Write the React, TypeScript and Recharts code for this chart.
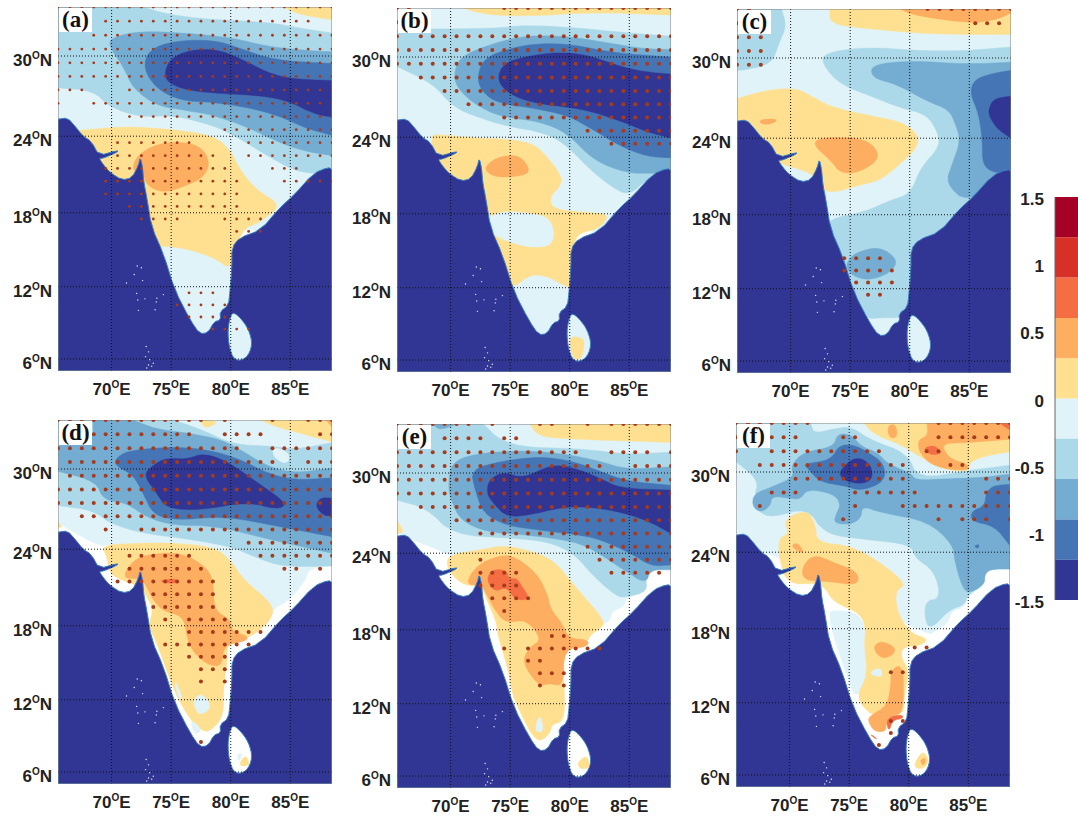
import React from 'react';
import { ScatterChart, Scatter, XAxis, YAxis, BarChart, Bar } from 'recharts';

type Pt = number[];
const COLORS = ['#313695', '#4575b4', '#74add1', '#abd9e9', '#e0f3f8', '#fee090', '#fdae61', '#f46d43', '#d73027', '#a50026', '#ffffff'];
const LON_TICKS = [70, 75, 80, 85];
const LAT_TICKS = [6, 12, 18, 24, 30];
const LON_DOMAIN = [65.5, 88.5];
const LAT_DOMAIN = [5, 33.5];

const fullFrame: Pt[] = [[65.5, 33.5], [88.5, 33.5], [88.5, 5], [65.5, 5]];
const coastOcean: Pt[] = [[65.5, 25.3], [66.3, 25.4], [66.9, 24.8], [67.6, 24], [68.3, 23.6], [68.95, 22.5], [70.5, 22.9], [70.5, 22.78], [69.3, 22.3], [68.95, 22.3], [69.3, 21.8], [69.85, 21.2], [70.85, 20.6], [71.7, 20.76], [72.25, 21.73], [72.4, 22.4], [72.6, 21.6], [72.7, 20.42], [72.95, 19.25], [73.35, 16.87], [74.35, 14.7], [75.3, 11.72], [76.6, 9.25], [77.4, 8.1], [78.1, 8.2], [78.6, 9.1], [79.15, 9.25], [79.1, 9.95], [79.8, 10.45], [79.95, 11.7], [80.1, 13.6], [80.1, 15.2], [80.75, 16], [82.5, 16.6], [84.15, 18.43], [85.3, 19.4], [86.95, 21.13], [88.2, 21.6], [88.5, 21.4], [88.5, 5], [65.5, 5]];
const sriLanka: Pt[] = [[80.2, 9.9], [80.8, 9.45], [81.5, 8.5], [81.85, 7.18], [81.3, 6], [80.3, 5.85], [79.85, 7.05], [79.75, 8.42], [79.95, 9.5]];
const islandLons = [72.15, 72.5, 71.9, 72.6, 71.25, 72.1, 72.2, 72.8, 73.8, 74.35, 73.75, 72.25, 73.65, 72.9, 73.1, 72.85, 73.2, 73.5, 73.1, 72.95, 73.37];
const islandLats = [13.7, 13.55, 13, 12.5, 12.3, 11.45, 10.9, 11, 11.05, 11.35, 10.75, 10.05, 10.1, 7.05, 6.6, 6.2, 5.95, 5.65, 5.5, 5.25, 5.4];

// Panel (a)
const aBand3: Pt[] = [[65.5, 33.5], [72.66, 33.5], [74.63, 33], [78, 32.63], [83.06, 32.44], [85.87, 32], [88.5, 31.66], [88.5, 21.08], [87, 21.08], [85.3, 21.34], [83.06, 22.5], [80.25, 24.08], [78.56, 24.8], [75.2, 25.6], [72.4, 25.45], [69.85, 26.2], [68.45, 27.45], [65.5, 27.65]];
const aBand2: Pt[] = [[69.7, 30.8], [70.1, 31.37], [72.4, 31.8], [76.3, 31.66], [80.25, 31.3], [83.05, 30.7], [85.87, 30.44], [88.5, 30.3], [88.5, 22.5], [85.87, 22.9], [83.6, 23.7], [81.37, 24.7], [78.56, 25.6], [76.3, 25.95], [73.8, 26.3], [71.8, 27.6], [71, 29.2]];
const aBand1: Pt[] = [[72.66, 29.07], [73.1, 30.44], [75.2, 31.1], [78.56, 31.17], [80.8, 30.56], [83.6, 29.7], [88.5, 29.45], [88.5, 24.07], [86.4, 24.57], [84, 25.57], [81.37, 26.2], [78.56, 26.57], [75.75, 26.7], [73.8, 27.57]];
const aBand0: Pt[] = [[74.35, 28.5], [74.9, 29.83], [76.6, 30.44], [78.8, 30.5], [80.8, 29.83], [83.05, 28.8], [85, 28.32], [88.5, 28.2], [88.5, 25.45], [87, 25.7], [84.75, 26.7], [82.5, 27.07], [79.7, 27.2], [76.9, 27.4], [75.2, 27.8]];
const aYellow: Pt[] = [[67.47, 24.45], [71, 24.75], [74.6, 24.57], [78.56, 24.07], [80, 22.9], [80.8, 21.33], [82.2, 19.77], [84.3, 18.6], [82.5, 17.27], [80.8, 16.6], [80.1, 13.3], [78.56, 14.4], [76.3, 15.1], [74.07, 15.35], [72, 15.35], [68, 20], [67, 24.45]];
const aOrange: Pt[] = [[71.7, 21.34], [72.1, 22.5], [73.8, 23.43], [76.3, 23.56], [77.7, 23.03], [78.26, 21.86], [77.7, 20.8], [76.3, 20.16], [74.35, 19.56], [72.95, 20.16], [72.66, 21.1]];
const aTopYellow: Pt[] = [[84.46, 33.5], [85.6, 33], [88.5, 32.6], [88.5, 33.5]];
const andhraGap: Pt[] = [[80.3, 15.9], [80.5, 16.6], [82.2, 16.65], [81.3, 16.1], [80.8, 15.9]];

// Panel (b)
const bBand3: Pt[] = [[65.5, 32], [73.6, 32.05], [76.4, 32.3], [80.6, 32.1], [84.8, 31.75], [88.5, 31.5], [88.5, 21.2], [86.8, 21], [84.97, 19.4], [83.4, 20.2], [81.7, 21.5], [79.8, 23.3], [78.1, 24.3], [74.4, 24.9], [72.2, 25.55], [70.2, 26.3], [68.5, 28.05], [65.5, 29.3]];
const bBand2: Pt[] = [[70.27, 28.8], [70.8, 30.05], [73.6, 31], [76.4, 31.56], [79.8, 31.5], [83.4, 31], [86.2, 30.6], [88.5, 30.55], [88.5, 21.2], [87.07, 21.2], [84.8, 21.2], [82, 22.2], [79.8, 24.3], [77.5, 25.2], [74.15, 25.55], [71.9, 26.55], [70.5, 27.8]];
const bBand1: Pt[] = [[72.2, 28.4], [72.75, 29.9], [75, 30.65], [77.5, 31], [80.3, 30.9], [83.7, 30.3], [88.5, 30], [88.5, 22.4], [86.5, 22.5], [84.26, 23.3], [82, 24.55], [79.8, 25.67], [77, 26.2], [74.15, 26.55], [72.75, 27.3]];
const bBand0: Pt[] = [[73.87, 28.3], [74.43, 29.55], [76.4, 30.05], [78.93, 30.35], [81.45, 30.17], [84.26, 29.3], [86.2, 28.92], [88.5, 28.75], [88.5, 23.93], [86.5, 24.4], [84.8, 25.05], [82, 25.92], [79.8, 26.3], [77.24, 26.55], [75, 27.2]];
const bTopYellow: Pt[] = [[71.06, 33.5], [72.75, 33.05], [76.4, 32.9], [82, 33.2], [88.5, 33], [88.5, 33.5]];
const bYellow: Pt[] = [[68.67, 24.25], [71.9, 23.93], [75, 23.85], [77, 23.48], [78.1, 22.5], [79.35, 20.95], [79.2, 20.15], [78.3, 19.35], [78.6, 18.35], [81.45, 18.1], [83.4, 17.96], [82.44, 16.77], [80.9, 16.5], [80.33, 15.7], [80.33, 11.86], [79.35, 12.27], [78.1, 12.95], [76.7, 13.1], [75.3, 12], [73.6, 11.9], [72.2, 18.1], [70.8, 20.1], [68.4, 21.6], [68.4, 24]];
const bPaleHole: Pt[] = [[73, 17.68], [74.4, 18.2], [76.4, 18.08], [78.5, 17.68], [78.73, 15.45], [76.7, 15.25], [74.7, 15.8], [73.6, 16.33], [72.75, 17]];
const bOrange: Pt[] = [[72.8, 21.45], [73.3, 22.1], [74.3, 22.55], [75.84, 22.6], [76.7, 21.45], [76.1, 21], [73.87, 20.85]];
const bLankaYellow: Pt[] = [[79.9, 8], [81.2, 7.85], [81.2, 6.9], [80.9, 6.05], [80.2, 6.1]];

// Panel (c)
const cCornerBlue: Pt[] = [[65.5, 33.5], [69.24, 33.5], [69.66, 32.3], [69, 31], [68.4, 29.55], [66, 29.1], [65.5, 29.1]];
const cBand3: Pt[] = [[72.6, 29.6], [72.9, 30.4], [76.4, 30.8], [80.33, 30.55], [84.26, 30.5], [88.5, 30.8], [88.5, 15], [80.33, 11.2], [79.9, 9.8], [78.9, 9.6], [77.5, 9.6], [76.4, 9.5], [75.5, 11], [73, 16.4], [73.1, 17.65], [76.12, 18.2], [78.37, 19.15], [80.05, 19.65], [80.9, 21.7], [82.44, 23.27], [82.44, 24.3], [81.45, 25.8], [79.2, 26.3], [76.96, 27.1], [74.15, 28.05]];
const cBand2: Pt[] = [[76.8, 29.55], [80.33, 29.8], [84.8, 29.55], [88.5, 29.7], [88.5, 21.2], [84.83, 18.9], [83, 20.5], [83.56, 22], [84.26, 23.8], [83.85, 25.05], [83.3, 26.17], [81.45, 26.8], [78.93, 28.05], [76.8, 28.55]];
const cBand1: Pt[] = [[85.05, 27.4], [85.4, 28.4], [86.8, 28.85], [88.5, 29.1], [88.5, 21.4], [87.07, 21.3], [86.1, 21.95], [86.1, 23.8], [85.8, 25.85]];
const cBand0: Pt[] = [[86.65, 26.3], [87.07, 27], [88.5, 27.2], [88.5, 24], [87.35, 24.7], [86.65, 25.7]];
const cYellow: Pt[] = [[65.5, 27], [68, 27.65], [70.5, 27.8], [71.9, 27.1], [73.6, 26.3], [76.96, 25.67], [79.5, 25.2], [80.75, 24.2], [80.6, 23.27], [79.2, 22], [77.5, 20.7], [75.56, 20.3], [73.6, 19.75], [72.6, 20], [72.2, 21], [70.8, 21.6], [69.1, 22], [65.5, 23.8]];
const cOrange: Pt[] = [[71.7, 23.65], [73, 24.1], [76.4, 24], [77.66, 22.5], [75.7, 21.3], [74.15, 21.3], [73.45, 22.2]];
const cSmallOrange: Pt[] = [[67.27, 25.4], [68.8, 25.5], [68.75, 25.2], [67.7, 25]];
const cTopYellow: Pt[] = [[73.3, 33.5], [73.3, 32.45], [76.4, 32.1], [82, 31.7], [88.5, 31.7], [88.5, 33.5]];
const cTopOrange: Pt[] = [[79.2, 33.5], [80.33, 33.05], [84.83, 32.5], [87.1, 32.7], [88.5, 33.2], [88.5, 33.5]];
const cSouthBlue: Pt[] = [[74.77, 14.3], [75.56, 15], [77.5, 15.45], [79.05, 14.35], [78.37, 13.3], [76.68, 12.7], [75.4, 12.95], [74.7, 13.6]];

// Panel (d)
const dPale: Pt[] = [[65.5, 33.5], [88.5, 33.5], [88.5, 22.72], [86.57, 22.5], [86.3, 21.6], [84.9, 20], [83.6, 19.4], [83.5, 18.6], [80.25, 18.5], [70.4, 24.47], [69, 24.2], [66.6, 25.4], [65.5, 26]];
const dWestYellow: Pt[] = [[65.5, 26.05], [65.9, 25.7], [65.5, 25.65]];
const dBand3: Pt[] = [[65.5, 33.5], [75.2, 33.5], [77.5, 32.85], [80.25, 31.75], [83.5, 31.65], [85.3, 31.4], [88.5, 31.9], [88.5, 22.7], [85.87, 22.64], [83.9, 22.77], [81.93, 23.43], [80, 24.2], [76.3, 24.8], [72.66, 25.2], [69.85, 25.95], [68.45, 26.95], [65.5, 27.3]];
const dPocket: Pt[] = [[83.5, 31.65], [85, 31.15], [84.75, 30.3], [83.6, 30.8]];
const dBand2: Pt[] = [[68.45, 33.5], [71.8, 33.5], [73.8, 32.85], [76.3, 32.6], [79.1, 32.15], [80.8, 31.4], [83.05, 30.2], [85.3, 29.7], [88.5, 30.07], [88.5, 23.7], [85.87, 24.2], [83.06, 24.8], [78.56, 25.8], [75.2, 25.8], [72.95, 26.4], [71.26, 27.5], [69.3, 27.7], [68.7, 29.1], [65.5, 29.83], [65.5, 31.7], [68.45, 31.85]];
const dBand1: Pt[] = [[70.27, 30.7], [71.26, 31.3], [74.07, 31.55], [76.3, 31.55], [78.56, 31.3], [80.8, 30.7], [83.05, 29.7], [85.3, 29.2], [88.5, 29.35], [88.5, 24.95], [86.4, 25.33], [83.6, 25.8], [80.8, 26.3], [78.56, 26.45], [75.5, 26.2], [73.5, 26.6], [72.66, 28.2], [71.8, 29.57], [70.4, 30.2]];
const dBand0: Pt[] = [[72.66, 29.57], [73.5, 30.3], [74.6, 30.8], [76.3, 30.7], [77.7, 31.15], [79.7, 30.57], [82.5, 28.85], [84.75, 27.45], [83.9, 27], [81.4, 27.58], [77.4, 26.95], [74.6, 27.1], [73.8, 28.2]];
const dEastDark: Pt[] = [[87.1, 27.3], [87.55, 27.9], [88.5, 27.85], [88.5, 26.5], [87.7, 26.6]];
const dYellow: Pt[] = [[69.15, 24.3], [71.8, 24.45], [75, 24.5], [78.56, 24.2], [80, 23.16], [81.1, 21.6], [83.5, 19.77], [83.5, 18.6], [82.2, 17.4], [80.25, 16.6], [79.7, 16.35], [79.7, 15], [79.4, 13.1], [79.4, 10.6], [78.3, 9.4], [77.6, 9.4], [76.6, 10.35], [75.5, 12.2], [74.6, 14.4], [73.8, 16.6], [73.08, 17.95], [73.5, 19.3], [72.95, 20.3], [72.4, 21.1], [70.84, 21.6], [69.85, 22.1], [69.6, 23.4]];
const dPaleBlob: Pt[] = [[76.8, 12], [77.6, 12.55], [78.4, 11.45], [77.7, 10.8], [77.16, 10.9]];
const dPaleTip: Pt[] = [[76.6, 10.3], [77.3, 9.9], [77.5, 9.3], [76.9, 9.2]];
const dPaleSliver: Pt[] = [[75.2, 13.9], [76.03, 12], [75.6, 12.1]];
const dOrange: Pt[] = [[70.84, 21.73], [71.8, 23.16], [73.2, 23.63], [75.5, 23.74], [77.15, 23.16], [78.56, 21.95], [78.56, 19.25], [79.97, 18.5], [80.1, 17.55], [81.5, 17.15], [81.2, 16.75], [79.4, 16.45], [79.26, 14.7], [78, 14.85], [76.74, 16], [76.3, 17.15], [76.03, 18.75], [74.35, 19.15], [73.5, 20], [72.95, 21.08], [72.5, 21.73]];
const dRed: Pt[] = [[74.07, 21.6], [75.47, 21.73], [75.5, 21.34], [74.35, 21.4]];
const dTopYellowA: Pt[] = [[77.4, 33.5], [79.1, 33.4], [77.85, 32.85]];
const dTopYellowB: Pt[] = [[82.5, 33.5], [83.9, 33], [85.87, 32.55], [88.5, 31.95], [88.5, 33.5]];
const dTopOrange: Pt[] = [[88, 33.5], [88.5, 33], [88.5, 33.5]];
const dLankaYellow: Pt[] = [[80.67, 6.65], [81.23, 7.45], [81.65, 6.65], [81.1, 6.45]];
const dLankaPale: Pt[] = [[80.5, 7.5], [81, 7.6], [80.7, 6.8]];

// Panel (e)
const ePale: Pt[] = [[65.5, 33.5], [88.5, 33.5], [88.5, 22.7], [86.8, 22.7], [86.37, 22.2], [86.5, 21], [84.8, 20.6], [84.5, 19.8], [83.56, 19.5], [83.3, 18.5], [82, 18.5], [69.66, 24], [67.7, 24.7], [65.5, 25.5]];
const eBand3: Pt[] = [[65.5, 33.5], [72.75, 33.5], [74.15, 32.35], [76.4, 31.85], [79.2, 31.8], [82, 31.65], [84.8, 31.35], [88.5, 31.5], [88.5, 22.7], [86.8, 22.7], [86.37, 22.2], [86.5, 21], [84.8, 20.6], [83.98, 20.6], [82, 22.2], [80.33, 24], [78.1, 24.9], [75, 25.15], [70.2, 25.4], [68, 27.4], [65.5, 28]];
const eBand2: Pt[] = [[69.8, 29], [70, 30.7], [71.9, 31.4], [76.4, 31.65], [79.77, 31.35], [82.6, 30.85], [84.8, 30.25], [88.5, 30.45], [88.5, 22.75], [86.8, 22.75], [86.37, 21.6], [84.55, 22.7], [82, 24.25], [80.33, 24.9], [76.4, 25.4], [73.03, 25.6], [70.8, 26.5], [70, 28.1]];
const eBand2Top: Pt[] = [[68.5, 33.5], [70.5, 33.5], [69.1, 33.05]];
const eBand1: Pt[] = [[71.7, 30.25], [74.15, 30.85], [77.5, 31.2], [80.33, 30.85], [82.6, 30.1], [84.8, 29.4], [88.5, 29.1], [88.5, 23.1], [86.8, 23], [85.1, 24], [82.44, 25.1], [80.33, 25.45], [77.5, 25.75], [74.7, 26.1], [72.75, 27], [72.05, 28.75]];
const eBand0: Pt[] = [[73.03, 28.5], [73.2, 29.5], [74.43, 30.1], [76.1, 29.6], [78.4, 30.6], [80.33, 30.4], [82.6, 29.6], [84.26, 28.87], [88.5, 28.75], [88.5, 25.5], [86.5, 26.5], [83.7, 27.25], [80.9, 27.55], [78.93, 27.4], [76.7, 26.9], [74.7, 26.75], [73.6, 27.75]];
const eWestYellow: Pt[] = [[65.5, 26.5], [66.1, 25.6], [65.5, 25.5]];
const eYellow: Pt[] = [[69.6, 23], [69.9, 23.9], [72.5, 24.25], [74.43, 24.6], [76.4, 24.25], [78.65, 23.5], [80.33, 21.55], [83, 18.68], [82.6, 18.1], [81.75, 17.6], [81.45, 16.95], [79.5, 16.5], [79.35, 15.3], [79.6, 12.6], [79.5, 10.55], [78.5, 10.3], [78.37, 9.6], [77.5, 8.8], [76.7, 9.6], [76.1, 10.8], [75.2, 12.6], [74.85, 14.75], [73.9, 17.75], [73.87, 18.55], [73, 20.45], [72.6, 21.4], [70.8, 21.6]];
const ePaleWedge: Pt[] = [[77.5, 11.25], [77.85, 9.6], [77, 9.75]];
const eOrange: Pt[] = [[71.2, 21.6], [72.2, 23.1], [74.15, 23.85], [75.4, 23.75], [77.24, 22.45], [78.1, 20.9], [78.4, 19.6], [79.35, 18.55], [79.9, 17.3], [81.6, 17.2], [81.45, 16.6], [79.5, 16.45], [79.5, 13.4], [78.2, 13.68], [77.5, 13.4], [76.4, 14.75], [76.1, 15.7], [76.7, 16.65], [77.66, 17.2], [76.4, 18.8], [74.7, 18.55], [73.87, 19.3], [72.9, 21], [72.6, 21.5]];
const eRed: Pt[] = [[73, 21.9], [73.45, 22.75], [74.7, 22.7], [74.85, 22.05], [75.55, 22.05], [75.85, 21.65], [76.7, 20.4], [75.4, 20.35], [74.7, 21.4], [73.7, 21]];
const eTopYellow: Pt[] = [[76.68, 33.5], [77.25, 32.7], [79.2, 32.45], [88.5, 32.2], [88.5, 33.5]];
const eLankaYellow: Pt[] = [[80.6, 7.1], [81.45, 7.78], [81.74, 6.68], [80.9, 6.55]];

// Panel (f)
const fPale: Pt[] = [[65.5, 33.5], [88.5, 33.5], [88.5, 22.7], [86.9, 22.7], [86.37, 22.3], [86.37, 21.4], [84.97, 20.6], [84.7, 19.7], [83.56, 19.4], [83.3, 18.4], [82.3, 17.9], [81.6, 17.4], [69.2, 23.6], [67.55, 24], [65.5, 25.5]];
const fPaleWest: Pt[] = [[73.6, 19.5], [76, 19.25], [76.55, 16.8], [76.8, 14.35], [75.55, 12.2], [74.85, 14.1], [73.7, 17.3], [73.3, 19.2]];
const fBand3: Pt[] = [[65.5, 33.5], [71.76, 33.5], [72.05, 32.75], [73.7, 33.1], [75.15, 33.25], [76.8, 32.3], [79.9, 31.35], [80.75, 29.5], [84.97, 30.1], [88.5, 30.5], [88.5, 22.7], [86.9, 22.7], [86.37, 22.3], [86.37, 21.5], [84.97, 20.7], [84.7, 19.9], [83.4, 19.5], [82.15, 18.2], [81.45, 18.2], [81.3, 20.2], [82.7, 20.4], [82.15, 22.55], [80.47, 23.6], [80.2, 24.6], [76, 25], [72.9, 25.4], [71.5, 27.4], [68.5, 26.6], [67.3, 27.1], [67, 28.1], [67.4, 29.4], [65.5, 30.75]];
const fBand2: Pt[] = [[70.1, 30.5], [71.2, 31.45], [73.7, 31.8], [74, 32.75], [75.15, 32.7], [76, 31.85], [77.4, 31.4], [78.2, 30.6], [80.2, 29.9], [80.6, 29.4], [83, 29.5], [86.1, 29.6], [88.5, 29.85], [88.5, 22.7], [86.9, 22.7], [86.37, 22.3], [86.37, 21.5], [84.97, 20.75], [84.4, 21.5], [83.85, 23.35], [83.7, 24.6], [81.6, 26.35], [77.66, 27], [76.1, 27.5], [76, 26.6], [75.15, 26.1], [73.7, 26.2], [73.9, 26.9], [74.3, 27.6], [73.7, 28.4], [71.5, 28.75], [70.9, 28], [70.1, 28.05], [68.5, 28.25], [68.4, 27.5], [67.55, 27], [66.85, 27.5], [67, 28.4], [68.5, 28.9], [70.4, 29.65]];
const fBand1Center: Pt[] = [[71.2, 30.6], [73.45, 30.85], [74.15, 31.95], [75.4, 31.95], [76.55, 31.45], [77.95, 30.6], [78, 29.3], [76, 28.6], [74.6, 29], [72.6, 29.25], [71.5, 30.25]];
const fBand1East: Pt[] = [[86.5, 28.5], [87.1, 29], [88.5, 29.1], [88.5, 24.5], [87.2, 26], [85.25, 26.35], [85.25, 27.1], [86.37, 27.5]];
const fBand1Spot: Pt[] = [[85.47, 24.5], [85.95, 24.6], [85.8, 24.25]];
const fBand0: Pt[] = [[74.15, 30.1], [75.55, 31.15], [76.8, 30.6], [77, 29.5], [76, 29.1], [74.45, 29.4]];
const fYellow: Pt[] = [[69.1, 25.1], [69.95, 25.4], [69.5, 26.5], [71.5, 27.25], [72.2, 26], [72.3, 24.75], [75.15, 24.5], [77.66, 23.2], [79.85, 21.5], [78.85, 21], [79.07, 19.2], [80.2, 17.6], [81.65, 17.2], [81.03, 16.65], [79.5, 16.55], [79.35, 15.7], [80.05, 14.6], [79.6, 12.45], [79.6, 11.1], [78.2, 10.85], [76.8, 10.95], [75.55, 12.45], [76.55, 14.2], [76.25, 16.8], [76.4, 17.85], [76, 19.2], [73.7, 20.1], [73, 21.2], [72.3, 21.6], [69.8, 21.5], [69.1, 23.6]];
const fPaleBlob: Pt[] = [[76.7, 14.5], [77.66, 14.9], [77.8, 14.1], [77.1, 14.2]];
const fOrangeA: Pt[] = [[71, 22.85], [72.05, 23.87], [73.7, 23.2], [75.75, 22.5], [75.75, 21.4], [73.17, 21.75], [71.2, 21.8]];
const fOrangeB: Pt[] = [[70.1, 24.5], [70.65, 24.75], [71.2, 24], [70.8, 24]];
const fOrangeC: Pt[] = [[76.96, 16.5], [77.66, 17.05], [78.93, 16.5], [78.65, 15.84], [77.66, 15.57]];
const fOrangeD: Pt[] = [[78.5, 14.6], [79.2, 15.1], [79.6, 14.35], [79.5, 11.1], [78.65, 11], [78.1, 10.4], [78.1, 9.6], [77.1, 9.6], [76.55, 10.55], [76.8, 10.95], [78.2, 11.75], [78.5, 13.55]];
const fTopYellow: Pt[] = [[76.26, 33.5], [76.96, 32.75], [79.35, 31.95], [80.47, 31.35], [82.7, 30.2], [85.1, 30], [85.1, 30.75], [86.65, 31.2], [88.5, 31.45], [88.5, 33.5]];
const fTopOrangeSmall: Pt[] = [[78.2, 33.3], [78.9, 33.45], [79.07, 32.5], [78.37, 32.4]];
const fTopOrange: Pt[] = [[81.54, 33.5], [81.6, 32.6], [80.75, 32.3], [80.9, 31.35], [82.15, 30.35], [84.97, 30.05], [84.97, 30.6], [83.4, 30.95], [82.7, 32.05], [84.7, 32.1], [88.5, 32.35], [88.5, 33.5]];
const fTopRed: Pt[] = [[81.17, 31.7], [82.15, 31.95], [82.85, 31.35], [81.9, 31.2]];
const fCornerRed: Pt[] = [[87.6, 33.5], [88.5, 33], [88.5, 33.5]];
const fSouthRed: Pt[] = [[78.1, 10.4], [78.5, 10.9], [79.5, 11], [79.5, 10.7], [78.65, 10.55], [78.35, 9.6]];
const fTipRed: Pt[] = [[76.7, 9.4], [77.1, 9.25], [77.4, 8.9]];
const fLankaYellow: Pt[] = [[80.47, 6.96], [81.17, 8.06], [81.74, 7.23], [81.3, 6.55], [80.6, 6.55]];
const fLankaOrange: Pt[] = [[80.9, 7.2], [81.45, 7.5], [81.3, 6.7]];

// Significance stippling: one string per latitude row (33.5N downward), one character per longitude (65.5E eastward)
const stippleA = ['xxxxxxxxxxxxxxxxxxxxxxxx', '....xxxxxxxxxxxxxxxxxx..', '...xxxxxxxxxxxxxxxxxxxxx', 'xxxxxxxxxxxxxxxxxxxxxxxx', 'xxxxxxxxxxxxxxxxxxxxxxxx', 'xxxxxxxxxxxxxxxxxxxxxxxx', 'xxx...xxxxxxxxxxxxxxxxxx', 'x..xxxxxxxxxxxxxxxxxxxxx', '......xxxxxxxxxxxxxxxxxx', '..............xxxxxxxxxx', '.....xxxxxxx....xxxxxxxx', '.....xxxxxxxxx..xxxxxxxx', '....xxxxxxxxxxx...xxx...', '....xxxxxxxxxxxx...xxxxx', '....xxxxxxxxxxxx........', '......xxxxxxxxxx........', '.......xxxx...xxxx......', '...............xxx......', '', '', '', '', '...........xxx..........', '..........xxxxx.........', '...........xxxx.........', '.............xxxx.......'];
const stippleB = ['xx.......xxxxxxxxxxxxxxx', 'x.......................', 'x.xxxxxxxxxxxxxxxxxxxxxx', 'xxxxxxxxxxxxxxxxxxxxxxxx', 'xxxxxxxxxxxxxxxxxxxxxxxx', '..xxxxxxxxxxxxxxxxxxxxxx', '....xxxxxxxxxxxxxxxxxxxx', '......xxxxxxxxxxxxxxxxxx', '.........xxxxxxxxxxxxxxx', '................xxxxxxxx', '..................xxxxxx'];
const stippleC = ['xx..............xxxxxxxx', 'x...................xxx.', 'xxx', 'xxx', 'xxx', '', '', '', '', '', '', '', '', '', '', '', '', '', '', '.........xxxx...........', '.........xxxxx..........', '..........xxxx..........', '...........xx...........'];
const stippleD = ['xxxxxxxxxxxxx.x...x..xxx', '...xxxxxxxxx..xxxx....xx', 'xxxxxxxxxxxxxxxx..xxxxxx', '.xxxxxxxxxxxxxxxxxx..xxx', '.xxxxxxxxxxxxxxxxxxxxxxx', 'xxxxxxxxxxxxxxxxxxxxxxxx', 'xxxxxxxxxxxxxxxxxxxxxxxx', '..xxxxxxxxxxxxxxxxxxxxxx', '....x..xxxxxxxxxxxxxxxxx', '................xxxxxxxx', '......xxxxxx.....xxxxxxx', '......xxxxxxx......xx.x.', '.....xxxxxxxxx..........', '........xxxxxx..........', '........xxxxxx..........', '.........x.xxxx.........', '...........xxxxxxx......', '.........xxxxxxxx.......', '...........xxxx.........', '............xxx.........', '............x.x.........', '', '', '', '', '............x...........'];
const stippleE = ['xxxxxxx.x...xx..x.xxxxxx', 'x...xxxx.xx.............', 'xxxxxxxxxxxxxxxx..xxxx.x', 'xxxxxxxxxxxxxxxxxx..xxxx', 'xxxxxxxxxxxxxxxxxxxxxxxx', 'xxxxxxxxxxxxxxxxxxxxxxxx', '..xxxxxxxxxxxxxxxxxxxxxx', '.....xxxxxxxxxxxxxxxxxxx', '.......xxxxxxxxxxxxxxxxx', '................xxxxxxxx', '.......x.........xxxxxxx', '.......xxxx.......xxxxx.', '.......xxxx.............', '........xxxx............', '.........x..............', '', '.............xx.........', '.........x.xxxxxxx......', '...........xx...........', '............xxx.........', '............x.x.........'];
const stippleF = ['xxxxxxx..........xxxxxxx', 'x..xxx...xx......xxxxxxx', 'x..xxxxxxxxxx...xx......', '..xxxxxxxxxxxxx...xx....', '.....xxxxxxxxxx......xxx', '...xxx....xxxxxx.....xxx', '..x.......x...xxxxxxxxxx', '.........x.......x.xxx.x', '', '', '', '', '', '', '', '', '', '...............xx.......', '', '.............xx.........', '', '', '', '.............xx.........', '.............x..........', '............x...........'];

const PANELS = [
  { label: '(a)', left: 58, top: 7, dot: 1.4, lanka: 4, stipple: stippleA,
    layers: [[4, fullFrame], [10, andhraGap], [3, aBand3], [2, aBand2], [1, aBand1], [0, aBand0], [5, aYellow], [6, aOrange], [5, aTopYellow]],
    lankaLayers: [] },
  { label: '(b)', left: 397, top: 8, dot: 2, lanka: 4, stipple: stippleB,
    layers: [[4, fullFrame], [10, andhraGap], [3, bBand3], [2, bBand2], [1, bBand1], [0, bBand0], [5, bTopYellow], [5, bYellow], [4, bPaleHole], [6, bOrange]],
    lankaLayers: [[5, bLankaYellow]] },
  { label: '(c)', left: 737, top: 9, dot: 2, lanka: 4, stipple: stippleC,
    layers: [[4, fullFrame], [10, andhraGap], [3, cCornerBlue], [3, cBand3], [2, cBand2], [1, cBand1], [0, cBand0], [5, cYellow], [6, cOrange], [6, cSmallOrange], [5, cTopYellow], [6, cTopOrange], [2, cSouthBlue]],
    lankaLayers: [] },
  { label: '(d)', left: 58, top: 420, dot: 2, lanka: 10, stipple: stippleD,
    layers: [[4, dPale], [5, dWestYellow], [3, dBand3], [4, dPocket], [2, dBand2], [1, dBand1], [0, dBand0], [0, dEastDark], [5, dYellow], [4, dPaleBlob], [4, dPaleTip], [4, dPaleSliver], [6, dOrange], [7, dRed], [5, dTopYellowA], [5, dTopYellowB], [6, dTopOrange]],
    lankaLayers: [[4, dLankaPale], [5, dLankaYellow]] },
  { label: '(e)', left: 397, top: 424, dot: 2, lanka: 10, stipple: stippleE,
    layers: [[4, ePale], [5, eWestYellow], [3, eBand3], [2, eBand2], [2, eBand2Top], [1, eBand1], [0, eBand0], [5, eYellow], [4, ePaleWedge], [6, eOrange], [7, eRed], [5, eTopYellow]],
    lankaLayers: [[5, eLankaYellow]] },
  { label: '(f)', left: 736, top: 423, dot: 2, lanka: 10, stipple: stippleF,
    layers: [[4, fPale], [4, fPaleWest], [3, fBand3], [2, fBand2], [1, fBand1Center], [1, fBand1East], [1, fBand1Spot], [0, fBand0], [5, fYellow], [4, fPaleBlob], [6, fOrangeA], [6, fOrangeB], [6, fOrangeC], [6, fOrangeD], [5, fTopYellow], [6, fTopOrangeSmall], [6, fTopOrange], [7, fTopRed], [7, fCornerRed], [7, fSouthRed], [7, fTipRed]],
    lankaLayers: [[5, fLankaYellow], [6, fLankaOrange]] },
];

const colorbarCategory = ['scale'];
const colorbarNegative = [-0.3, -0.3, -0.3, -0.3, -0.3];
const colorbarPositive = [0.3, 0.3, 0.3, 0.3, 0.3];
const colorbarTicks = [-1.5, -1, -0.5, 0, 0.5, 1, 1.5];

const merc = (lat: number) => (Math.log(Math.tan(Math.PI / 4 + (lat * Math.PI) / 360)) * 180) / Math.PI;
const toData = (pts: Pt[]) => pts.map(([lon, lat]) => ({ lon, y: merc(lat) }));
const NoDot = () => null;
const TICK_FONT = { fontFamily: '"Liberation Sans", Arial, sans-serif', fontWeight: 700, fontSize: 17, fill: '#222' };
const PLOT = { w: 274, h: 364, left: 58, top: 2 };

const LonTick = ({ x, y, payload }: any) => (
  <text x={x} y={y + 24} textAnchor="middle" {...TICK_FONT}>
    {payload.value}
    <tspan dy={-7} fontSize={10}>O</tspan>
    <tspan dy={7}>E</tspan>
  </text>
);
const LatTick = ({ x, y, payload }: any) => {
  const lat = LAT_TICKS.find((t) => Math.abs(merc(t) - payload.value) < 0.01);
  return (
    <text x={x - 6} y={y + 10} textAnchor="end" {...TICK_FONT}>
      {lat}
      <tspan dy={-7} fontSize={10}>O</tspan>
      <tspan dy={7}>N</tspan>
    </text>
  );
};
const BarTick = ({ x, y, payload }: any) => (
  <text x={x - 3} y={y + 8} textAnchor="end" {...TICK_FONT}>{payload.value}</text>
);

// Rounds a contour ring in pixel space, keeping the vertices that sit on the plot frame.
const onFrame = (p: any) => Math.abs(p.x - PLOT.left) < 0.6 || Math.abs(p.x - PLOT.left - PLOT.w) < 0.6 || Math.abs(p.y - PLOT.top) < 0.6 || Math.abs(p.y - PLOT.top - PLOT.h) < 0.6;
const chaikin = (pts: any[]) => {
  const out: any[] = [];
  pts.forEach((p, i) => {
    const q = pts[(i + 1) % pts.length];
    if (p.hard) out.push(p);
    out.push({ x: p.x * 0.75 + q.x * 0.25, y: p.y * 0.75 + q.y * 0.25 });
    out.push({ x: p.x * 0.25 + q.x * 0.75, y: p.y * 0.25 + q.y * 0.75 });
  });
  return out;
};
const ringLine = (color: string, passes: number, stroke?: string) => (props: any) => {
  let pts = props.points.map((p: any) => ({ x: p.x, y: p.y, hard: onFrame(p) }));
  for (let i = 0; i < passes; i += 1) pts = chaikin(pts);
  const d = pts.map((p: any, i: number) => (i ? 'L' : 'M') + p.x.toFixed(2) + ' ' + p.y.toFixed(2)).join('') + 'Z';
  return <path d={d} fill={color} stroke={stroke || color} strokeWidth={stroke ? 1 : 0.4} />;
};

const Polygon = (key: string, level: number, pts: Pt[], passes = 2, stroke?: string) => (
  <Scatter key={key} data={toData(pts)} shape={NoDot} isAnimationActive={false} line={ringLine(COLORS[level], passes, stroke)} />
);
const Segment = (key: string, a: Pt, b: Pt, stroke: string, dash?: string) => (
  <Scatter key={key} data={toData([a, b])} shape={NoDot} isAnimationActive={false} line={{ stroke, strokeWidth: 1, strokeDasharray: dash, fill: 'none' }} />
);

const stipplePoints = (rows: string[]) => {
  const out: { lon: number; y: number }[] = [];
  rows.forEach((row, r) => row.split('').forEach((c, i) => { if (c === 'x') out.push({ lon: 65.5 + i, y: merc(33.5 - r) }); }));
  return out;
};
const islandPoints = islandLons.map((lon, i) => ({ lon, y: merc(islandLats[i]) }));

function MapPanel({ panel }: any) {
  const [lonMin, lonMax] = LON_DOMAIN;
  const [latMin, latMax] = LAT_DOMAIN;
  return (
    <div style={{ position: 'absolute', left: panel.left - 58, top: panel.top - 2 }}>
      <ScatterChart width={PLOT.w + 60} height={PLOT.h + 34} margin={{ top: PLOT.top, right: 2, left: 0, bottom: 0 }}>
        <XAxis type="number" dataKey="lon" domain={LON_DOMAIN} ticks={LON_TICKS} tick={<LonTick />} interval={0} tickLine={false} axisLine={false} height={32} tickSize={0} tickMargin={0} allowDataOverflow />
        <YAxis type="number" dataKey="y" domain={[merc(latMin), merc(latMax)]} ticks={LAT_TICKS.map(merc)} tick={<LatTick />} interval={0} tickLine={false} axisLine={false} width={58} tickSize={0} tickMargin={0} allowDataOverflow />
        {Polygon('land', 10, fullFrame, 0)}
        {panel.layers.map((l: any, i: number) => Polygon('layer' + i, l[0], l[1], l[1] === fullFrame ? 0 : 2))}
        {Polygon('ocean', 0, coastOcean, 1, '#3a80c2')}
        {Polygon('lanka', panel.lanka, sriLanka, 2, '#3a80c2')}
        {panel.lankaLayers.map((l: any, i: number) => Polygon('lk' + i, l[0], l[1]))}
        <Scatter data={islandPoints} isAnimationActive={false} shape={(p: any) => <circle cx={p.cx} cy={p.cy} r={0.7} fill="#e8e8f4" />} />
        {LON_TICKS.map((t) => Segment('gx' + t, [t, latMin], [t, latMax], '#111', '1 2'))}
        {LAT_TICKS.map((t) => Segment('gy' + t, [lonMin, t], [lonMax, t], '#111', '1 2'))}
        {Segment('fl', [lonMin, latMin], [lonMin, latMax], '#808080')}
        {Segment('fr', [lonMax, latMin], [lonMax, latMax], '#808080')}
        {Segment('fb', [lonMin, latMin], [lonMax, latMin], '#808080')}
        {Segment('ft', [lonMin, latMax], [lonMax, latMax], '#808080')}
        <Scatter data={stipplePoints(panel.stipple)} isAnimationActive={false} shape={(p: any) => <circle cx={p.cx} cy={p.cy} r={panel.dot} fill="#a53a1c" />} />
      </ScatterChart>
      <div style={{ position: 'absolute', left: 59, top: 3, width: 33, height: 24, background: '#fff', fontFamily: '"Liberation Serif", serif', fontWeight: 700, fontSize: 23, lineHeight: '24px', textAlign: 'center', color: '#111' }}>{panel.label}</div>
    </div>
  );
}

const colorbarRow: any = { name: colorbarCategory[0] };
colorbarNegative.forEach((v, i) => { colorbarRow['n' + i] = v; });
colorbarPositive.forEach((v, i) => { colorbarRow['p' + i] = v; });
const colorbarData = [colorbarRow];

function Colorbar() {
  return (
    <div style={{ position: 'absolute', left: 1015, top: 180 }}>
      <BarChart width={63} height={440} data={colorbarData} stackOffset="sign" barCategoryGap={0} margin={{ top: 17, right: 0, left: 0, bottom: 20 }}>
        <XAxis dataKey="name" hide />
        <YAxis type="number" domain={[-1.5, 1.5]} ticks={colorbarTicks} tick={<BarTick />} interval={0} width={40} tickLine={false} axisLine={{ stroke: '#666' }} allowDataOverflow />
        {colorbarNegative.map((_, i) => <Bar key={'n' + i} dataKey={'n' + i} stackId="c" fill={COLORS[4 - i]} isAnimationActive={false} />)}
        {colorbarPositive.map((_, i) => <Bar key={'p' + i} dataKey={'p' + i} stackId="c" fill={COLORS[5 + i]} isAnimationActive={false} />)}
      </BarChart>
    </div>
  );
}

export default function App() {
  return (
    <div style={{ position: 'absolute', left: 0, top: 0, width: 1078, height: 816, background: '#fff', overflow: 'hidden' }}>
      {PANELS.map((p) => <MapPanel key={p.label} panel={p} />)}
      <Colorbar />
    </div>
  );
}
